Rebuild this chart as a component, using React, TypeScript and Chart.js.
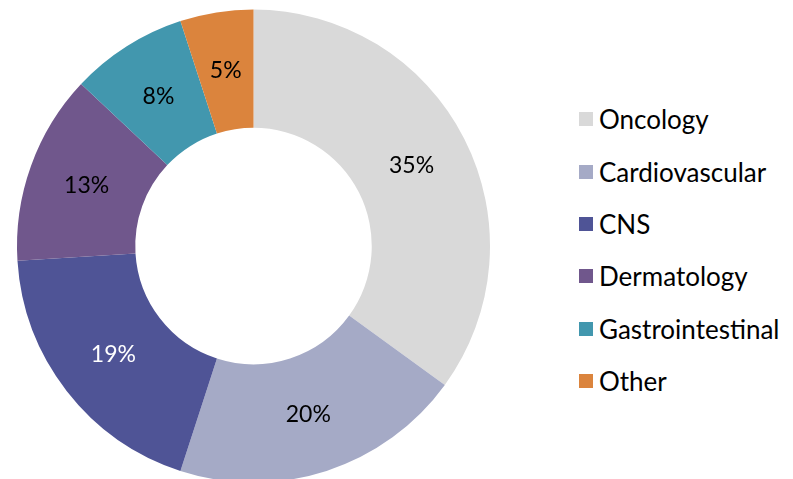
import React, { useEffect, useRef } from "react";
import { Chart, registerables } from "chart.js";

Chart.register(...registerables);

const categories = ["Oncology", "Cardiovascular", "CNS", "Dermatology", "Gastrointestinal", "Other"];
const shares = [35, 20, 19, 13, 8, 5];
const sliceColors = ["#D9D9D9", "#A5AAC6", "#4F5496", "#70578C", "#4297AE", "#DB843D"];
const labelColors = ["#000000", "#000000", "#FFFFFF", "#000000", "#000000", "#000000"];

const FONT = "Lato, 'Open Sans', sans-serif";

const percentLabels = {
  id: "percentLabels",
  afterDatasetsDraw(chart: any) {
    const ctx = chart.ctx;
    const meta = chart.getDatasetMeta(0);
    ctx.save();
    ctx.font = `23px ${FONT}`;
    ctx.textAlign = "center";
    ctx.textBaseline = "middle";
    meta.data.forEach((arc: any, i: number) => {
      const p = arc.tooltipPosition();
      ctx.fillStyle = labelColors[i];
      ctx.fillText(`${shares[i]}%`, p.x, p.y);
    });
    ctx.restore();
  },
};

export default function App() {
  const ref = useRef<HTMLCanvasElement>(null);
  useEffect(() => {
    if (!ref.current) return;
    const chart = new Chart(ref.current, {
      type: "doughnut",
      data: {
        labels: categories,
        datasets: [
          {
            data: shares,
            backgroundColor: sliceColors,
            borderWidth: 0,
          },
        ],
      },
      options: {
        responsive: false,
        animation: false,
        cutout: "50%",
        layout: { padding: { top: 9.5, bottom: 1.5, left: 0, right: 0 } },
        plugins: {
          legend: { display: false },
          tooltip: { enabled: false },
        },
      },
      plugins: [percentLabels],
    });
    return () => chart.destroy();
  }, []);

  return (
    <div
      style={{
        position: "fixed",
        left: 0,
        top: 0,
        width: 793,
        height: 479,
        overflow: "hidden",
        background: "#FFFFFF",
      }}
    >
      <canvas ref={ref} width={507} height={484} style={{ position: "absolute", left: 0, top: 0 }} />
      <div style={{ position: "absolute", left: 579, top: 93, fontFamily: FONT }}>
        {categories.map((c, i) => (
          <div
            key={c}
            style={{ display: "flex", alignItems: "center", height: 52.4, whiteSpace: "nowrap" }}
          >
            <span
              style={{
                display: "inline-block",
                width: 14,
                height: 14,
                background: sliceColors[i],
                marginRight: 6,
                flex: "none",
              }}
            />
            <span style={{ fontSize: 26, lineHeight: "30px", color: "#000000" }}>{c}</span>
          </div>
        ))}
      </div>
    </div>
  );
}
